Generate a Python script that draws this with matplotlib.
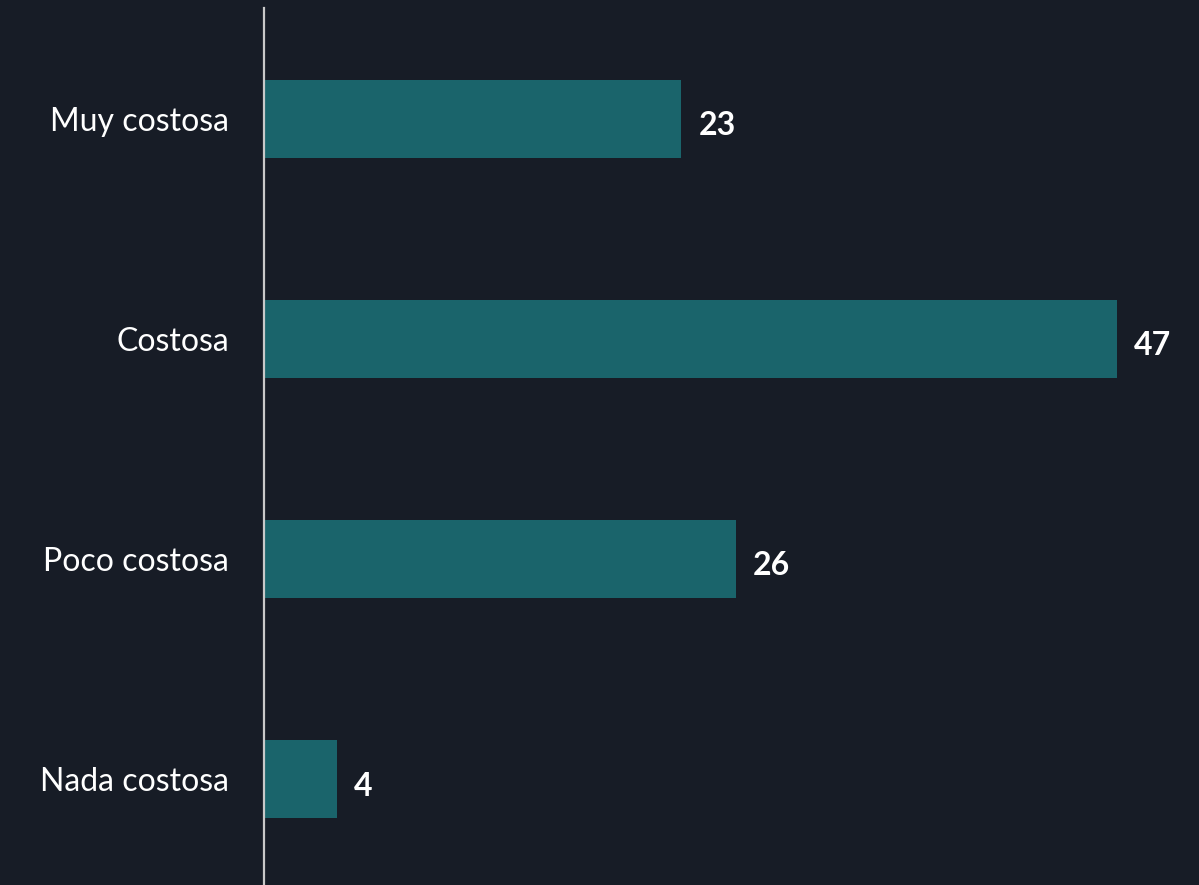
import matplotlib
matplotlib.use("Agg")
import matplotlib.pyplot as plt

categories = ["Muy costosa", "Costosa", "Poco costosa", "Nada costosa"]
values = [23, 47, 26, 4]

bg = "#171c26"
bar_color = "#1a646b"

plt.rcParams['font.family'] = ['Lato', 'DejaVu Sans']

fig = plt.figure(figsize=(11.99, 8.85), dpi=100, facecolor=bg)
ax = fig.add_axes([264/1199, 0, 1 - 264/1199, 1 - 8/885], facecolor=bg)

y = list(range(len(categories)))
ax.barh(y, values, height=0.354, color=bar_color, zorder=2)
ax.set_ylim(3.479, -0.5016)
ax.set_xlim(0, 935/18.15)

for yi, v in zip(y, values):
    ax.text(v + 0.95, yi + 0.03, str(v), va="center", ha="left", color="white",
            fontsize=23, fontweight="bold")

ax.set_yticks(y)
ax.set_yticklabels(categories, color="white", fontsize=23)
ax.tick_params(axis="y", length=0, pad=25)
ax.set_xticks([])
for s in ["top", "right", "bottom"]:
    ax.spines[s].set_visible(False)
ax.spines["left"].set_color("#c8c8c8")
ax.spines["left"].set_linewidth(1.6)

fig.savefig("out.png", dpi=100, facecolor=bg)
